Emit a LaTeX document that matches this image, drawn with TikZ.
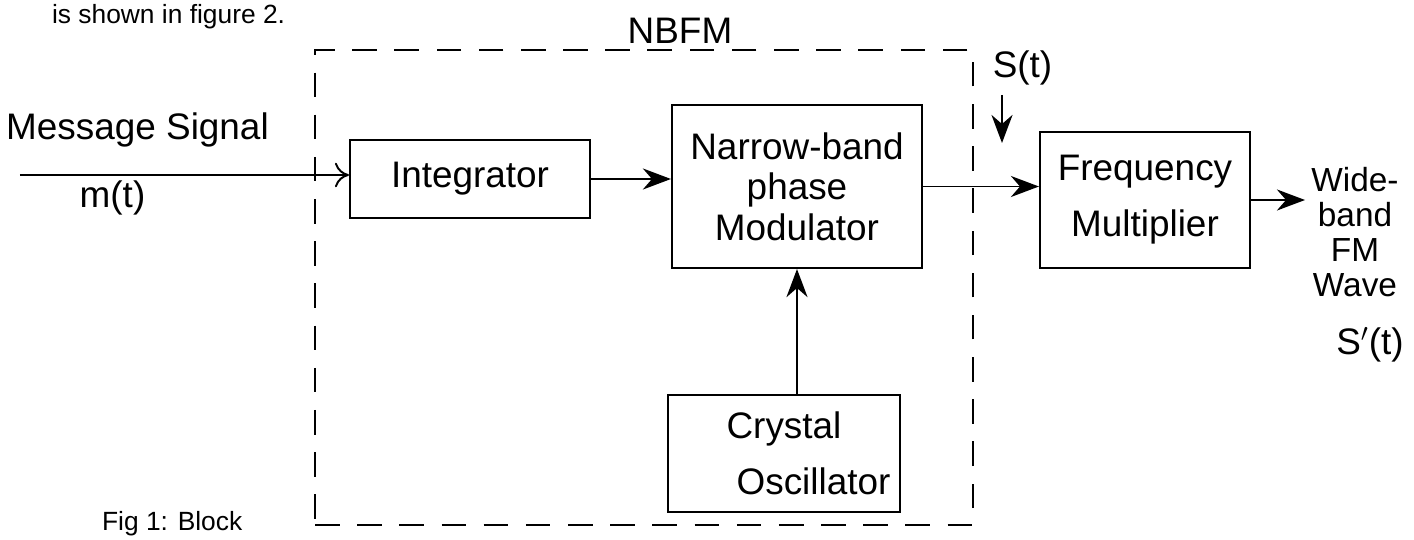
\documentclass[tikz,border=0pt]{standalone}
\usepackage{fontspec}
\setmainfont{Liberation Sans}
\usetikzlibrary{arrows.meta,calc}
\begin{document}
\begin{tikzpicture}[
  every node/.style={font=\fontsize{21}{24}\selectfont},
  block/.style={draw, line width=1.2pt, align=center, inner sep=2pt},
  conn/.style={line width=1.1pt, -{Stealth[length=16pt,width=12pt]}},
  openconn/.style={line width=1.1pt, -{To[length=8pt,width=14pt]}},
  dashbox/.style={draw, line width=0.9pt, dash pattern=on 14pt off 10pt},
  small/.style={font=\fontsize{15}{17}\selectfont}
]
\useasboundingbox (0,0) rectangle (28.28,-10.8);

% page texts around the figure
\node[small, anchor=north west, inner sep=1pt] (toptext) at (1.0,-0.04) {is shown in figure 2.};
\node[small, anchor=south west, inner sep=1pt] (figcap) at (2.0,-10.76) {Fig 1: Block};

% NBFM dashed enclosure
\node[dashbox, minimum width=13.16cm, minimum height=9.5cm] (nbfm) at (12.88,-5.75) {};
\node (nbfmlabel) at (13.6,-0.62) {NBFM};

% blocks
\node[block, minimum width=4.8cm, minimum height=1.56cm] (int) at (9.4,-3.58) {Integrator};
\node[block, minimum width=5.0cm, minimum height=3.26cm] (nbpm) at (15.94,-3.73) {Narrow-band\\[-1pt]phase\\[-1pt]Modulator};
\node[block, minimum width=4.64cm, minimum height=2.34cm] (cry) at (15.68,-9.07) {Crystal\\[8pt]\hspace*{1.6em}Oscillator};
\node[block, minimum width=4.2cm, minimum height=2.72cm] (fm) at (22.9,-4.0) {Frequency\\[8pt]Multiplier};

% input
\coordinate (msg) at (0.4,-3.5);
\node (msgtxt) at (2.75,-2.6) {Message Signal};
\node (mt) at (2.25,-3.95) {m(t)};
\draw[openconn] (msg) -- (msg -| int.west);

% connections
\draw[conn] (int.east) -- (int.east -| nbpm.west);
\draw[conn] (nbpm.east) -- (nbpm.east -| fm.west);
\draw[conn] (cry.north -| nbpm.south) -- (nbpm.south);

% S(t)
\node (st) at (20.45,-1.36) {S(t)};
\coordinate (sttop) at (20.04,-1.9);
\coordinate (stbot) at (20.04,-2.86);
\draw[conn] (sttop) -- (stbot);

% output
\coordinate (out) at (26.1,-4.06);
\draw[conn] (fm.east) -- (fm.east -| out);
\node[align=center, font=\fontsize{19}{20}\selectfont] (wb) at (27.1,-4.64) {Wide-\\band\\FM\\Wave};
\node (sp) at (27.4,-6.9) {S$'$(t)};
\end{tikzpicture}
\end{document}
